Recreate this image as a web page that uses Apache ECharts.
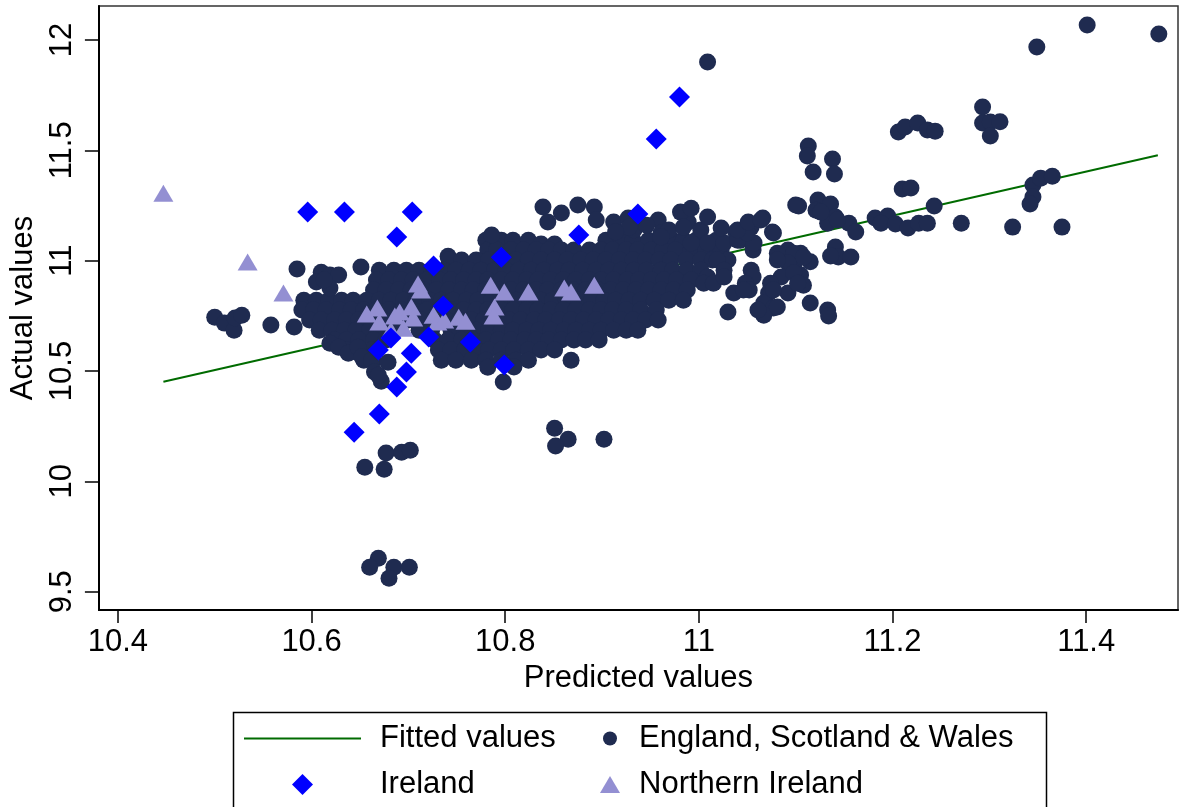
<!DOCTYPE html>
<html>
<head>
<meta charset="utf-8">
<title>Actual vs predicted values</title>
<script src="https://cdn.jsdelivr.net/npm/echarts@6/dist/echarts.min.js"></script>
<style>
  html, body { margin: 0; padding: 0; background: #fff; }
  #chart { width: 1180px; height: 807px; }
</style>
</head>
<body>
<div id="chart"></div>
<script>
// Axis ranges and tick labels
const xRange = [10.3804, 11.4948];
const yRange = [9.417, 12.154];
const xTicks = [10.4, 10.6, 10.8, 11, 11.2, 11.4];
const xTickLabels = ['10.4', '10.6', '10.8', '11', '11.2', '11.4'];
const yTicks = [9.5, 10, 10.5, 11, 11.5, 12];
const yTickLabels = ['9.5', '10', '10.5', '11', '11.5', '12'];

// Fitted regression line (end points)
const fittedX = [10.447, 11.474];
const fittedY = [10.451, 11.478];

// England, Scotland & Wales: sparse upper-right group
const eswTop = [
  [11.401, 12.068], [11.475, 12.027], [11.349, 11.968], [11.009, 11.900],
  [11.293, 11.696], [11.293, 11.624], [11.301, 11.628], [11.311, 11.630], [11.301, 11.565],
  [11.206, 11.583], [11.213, 11.606], [11.226, 11.624], [11.236, 11.592], [11.244, 11.587],
  [11.113, 11.520], [11.112, 11.474], [11.118, 11.402], [11.138, 11.461], [11.140, 11.393],
  [11.210, 11.325], [11.219, 11.329],
  [11.345, 11.343], [11.353, 11.374], [11.365, 11.383], [11.345, 11.288], [11.342, 11.257]
];

// England, Scotland & Wales: right side near the fitted line
const eswRight = [
  [11.103, 11.248], [11.123, 11.275], [11.136, 11.257], [11.121, 11.229], [11.141, 11.198],
  [11.133, 11.170], [11.155, 11.170], [11.162, 11.130], [11.126, 11.220], [11.143, 11.184],
  [11.182, 11.193], [11.195, 11.202], [11.188, 11.170], [11.203, 11.166], [11.216, 11.148],
  [11.227, 11.170], [11.236, 11.170], [11.243, 11.248],
  [11.271, 11.170], [11.324, 11.152], [11.375, 11.152],
  [11.141, 11.062], [11.144, 11.017], [11.157, 11.017], [11.136, 11.021],
  [11.092, 11.048], [11.105, 11.034], [11.115, 10.995], [11.098, 10.971], [11.105, 10.935],
  [11.108, 10.889], [11.092, 10.853], [11.115, 10.808], [11.133, 10.776], [11.134, 10.749]
];

// England, Scotland & Wales: between the main cloud and the right group
const eswMidRight = [
  [10.989, 11.175], [11.002, 11.139], [10.992, 11.080], [11.009, 11.080], [11.026, 11.080],
  [11.019, 11.003], [11.026, 10.957], [11.009, 10.926], [11.005, 10.898], [11.015, 10.898],
  [11.026, 10.926], [11.038, 11.130], [11.054, 11.152], [11.066, 11.193], [11.076, 11.130],
  [11.057, 11.080], [11.040, 11.093], [11.050, 11.125],
  [11.081, 11.034], [11.098, 11.034], [11.108, 11.016], [11.092, 10.989], [11.085, 10.926],
  [11.098, 10.944], [11.074, 10.898], [11.072, 10.853], [11.067, 10.808], [11.077, 10.785],
  [11.067, 10.753], [11.061, 10.776], [11.054, 10.957], [11.056, 10.926], [11.048, 10.898],
  [11.052, 10.867], [11.036, 10.853], [11.030, 10.767], [11.081, 11.003], [11.046, 10.867],
  [11.077, 10.867], [11.102, 10.898], [11.081, 10.790]
];

// England, Scotland & Wales: upper edge of the cloud
const eswUpper = [
  [10.839, 11.243], [10.844, 11.175], [10.858, 11.216], [10.875, 11.252], [10.892, 11.243],
  [10.894, 11.184], [10.912, 11.175], [10.927, 11.193], [10.933, 11.139], [10.958, 11.184],
  [10.961, 11.125], [10.981, 11.220], [10.992, 11.238], [11.009, 11.198], [11.023, 11.148],
  [11.040, 11.139], [11.051, 11.175], [11.064, 11.184], [11.077, 11.125], [11.100, 11.252],
  [10.786, 11.116], [10.928, 11.152], [10.969, 11.139], [10.984, 11.152], [10.946, 11.161],
  [10.914, 11.130], [10.961, 11.107]
];

// England, Scotland & Wales: left tail
const eswLeft = [
  [10.500, 10.744], [10.510, 10.717], [10.520, 10.685], [10.521, 10.740], [10.528, 10.753],
  [10.558, 10.708], [10.582, 10.699], [10.585, 10.962],
  [10.610, 10.948], [10.619, 10.935], [10.628, 10.935], [10.605, 10.903], [10.619, 10.876],
  [10.651, 10.971], [10.613, 10.912]
];

// England, Scotland & Wales: lower edge of the cloud
const eswLower = [
  [10.619, 10.626], [10.628, 10.608], [10.638, 10.581], [10.648, 10.608], [10.652, 10.563],
  [10.662, 10.549], [10.665, 10.495], [10.672, 10.454], [10.679, 10.540], [10.669, 10.481],
  [10.782, 10.517], [10.798, 10.450], [10.809, 10.518], [10.868, 10.549]
];

// England, Scotland & Wales: low outliers
const eswOutliers = [
  [10.677, 10.128], [10.693, 10.132], [10.702, 10.141], [10.655, 10.064], [10.675, 10.055],
  [10.851, 10.241], [10.865, 10.191], [10.852, 10.160], [10.902, 10.191],
  [10.669, 9.652], [10.660, 9.611], [10.685, 9.611], [10.701, 9.611], [10.680, 9.561]
];

// England, Scotland & Wales: dense core, one actual value per row with its predicted values
const eswCoreRows = [
  [11.093, [10.780, 10.796, 10.808, 10.824, 10.904, 10.920, 10.932, 10.948, 10.961, 10.973, 10.984, 10.997, 11.018, 11.043]],
  [11.075, [10.837, 10.851]],
  [11.048, [10.782, 10.791, 10.806, 10.819, 10.832, 10.845, 10.858, 10.871, 10.887, 10.899, 10.911, 10.925, 10.937, 10.951, 10.963, 10.976, 10.992, 11.007, 11.023, 11.056]],
  [11.020, [10.741]],
  [11.003, [10.742, 10.755, 10.770, 10.783, 10.798, 10.811, 10.824, 10.837, 10.851, 10.864, 10.878, 10.891, 10.904, 10.918, 10.932, 10.945, 10.959, 10.971, 10.987, 11.002, 11.014, 11.030]],
  [10.957, [10.670, 10.685, 10.698, 10.711, 10.724, 10.737, 10.749, 10.763, 10.775, 10.789, 10.801, 10.814, 10.827, 10.840, 10.854, 10.866, 10.880, 10.894, 10.907, 10.920, 10.933, 10.946, 10.961, 10.973, 10.988, 11.002]],
  [10.912, [10.667, 10.680, 10.693, 10.705, 10.719, 10.732, 10.744, 10.757, 10.770, 10.782, 10.796, 10.808, 10.822, 10.834, 10.847, 10.860, 10.873, 10.887, 10.899, 10.912, 10.926, 10.938, 10.951, 10.964, 10.977, 10.992, 11.007]],
  [10.867, [10.664, 10.677, 10.690, 10.703, 10.716, 10.729, 10.742, 10.755, 10.767, 10.780, 10.793, 10.806, 10.819, 10.832, 10.844, 10.858, 10.870, 10.883, 10.896, 10.909, 10.922, 10.935, 10.948, 10.961, 10.974, 10.988]],
  [10.821, [10.592, 10.605, 10.618, 10.631, 10.643, 10.657, 10.670, 10.682, 10.695, 10.708, 10.722, 10.734, 10.746, 10.760, 10.772, 10.786, 10.799, 10.811, 10.825, 10.837, 10.849, 10.863, 10.876, 10.889, 10.902, 10.914, 10.928, 10.940, 10.954, 10.969, 10.984]],
  [10.776, [10.590, 10.602, 10.615, 10.629, 10.641, 10.654, 10.667, 10.680, 10.693, 10.705, 10.719, 10.731, 10.744, 10.757, 10.770, 10.782, 10.796, 10.808, 10.822, 10.834, 10.847, 10.860, 10.873, 10.887, 10.899, 10.911, 10.925, 10.940, 10.956]],
  [10.731, [10.598, 10.610, 10.624, 10.636, 10.649, 10.662, 10.674, 10.688, 10.700, 10.713, 10.727, 10.739, 10.753, 10.765, 10.778, 10.791, 10.804, 10.816, 10.830, 10.842, 10.856, 10.868, 10.881, 10.894, 10.907, 10.920, 10.932, 10.945, 10.958]],
  [10.685, [10.608, 10.621, 10.634, 10.646, 10.660, 10.672, 10.686, 10.711, 10.724, 10.744, 10.758, 10.770, 10.783, 10.796, 10.808, 10.822, 10.835, 10.847, 10.861, 10.873, 10.887, 10.899, 10.912, 10.925, 10.937]],
  [10.640, [10.624, 10.636, 10.649, 10.664, 10.677, 10.727, 10.741, 10.755, 10.767, 10.780, 10.793, 10.806, 10.820, 10.832, 10.845, 10.858, 10.871, 10.883, 10.897]],
  [10.595, [10.636, 10.649, 10.662, 10.731, 10.744, 10.758, 10.770, 10.783, 10.796, 10.809, 10.824, 10.837, 10.851]],
  [10.549, [10.654, 10.664, 10.734, 10.749, 10.765, 10.780, 10.796, 10.811, 10.824]]
];

// Ireland
const irelandPoints = [
  [10.596, 11.220], [10.634, 11.220], [10.704, 11.220], [10.688, 11.107], [10.726, 10.976],
  [10.796, 11.016], [10.876, 11.116], [10.937, 11.211], [10.956, 11.551], [10.980, 11.742],
  [10.736, 10.794], [10.721, 10.654], [10.682, 10.649], [10.669, 10.595], [10.703, 10.581],
  [10.698, 10.495], [10.688, 10.427], [10.670, 10.305], [10.644, 10.223], [10.764, 10.631],
  [10.799, 10.527]
];

// Northern Ireland
const niPoints = [
  [10.447, 11.306], [10.534, 10.994], [10.571, 10.853], [10.657, 10.758], [10.668, 10.785],
  [10.670, 10.722], [10.682, 10.685], [10.686, 10.749], [10.691, 10.767], [10.695, 10.694],
  [10.703, 10.790], [10.705, 10.740], [10.710, 10.894], [10.713, 10.867], [10.726, 10.753],
  [10.730, 10.722], [10.737, 10.731], [10.752, 10.744], [10.759, 10.726], [10.785, 10.889],
  [10.799, 10.858], [10.789, 10.790], [10.788, 10.749], [10.824, 10.858], [10.861, 10.876],
  [10.868, 10.858], [10.892, 10.889]
];

const eswCore = [];
eswCoreRows.forEach(([actual, predictedList]) => {
  predictedList.forEach(p => eswCore.push([p, actual]));
});
const eswPoints = [].concat(eswCore, eswTop, eswRight, eswMidRight, eswUpper, eswLeft, eswLower, eswOutliers);

const FONT = '"Liberation Sans", Arial, Helvetica, sans-serif';
const FS = 31;
const labelFrom = (ticks, labels) => v => {
  const i = ticks.findIndex(t => Math.abs(t - v) < 1e-6);
  return i >= 0 ? labels[i] : '';
};

const chart = echarts.init(document.getElementById('chart'), null, { renderer: 'canvas' });

const legendText = { color: '#000', fontSize: FS, fontFamily: FONT };

chart.setOption({
  animation: false,
  backgroundColor: '#ffffff',
  grid: {
    left: 97, top: 6, right: 2, bottom: 197,
    show: true, borderColor: '#333', borderWidth: 1.5, backgroundColor: '#ffffff'
  },
  xAxis: {
    type: 'value', min: xRange[0], max: xRange[1],
    name: 'Predicted values', nameLocation: 'middle', nameGap: 45,
    nameTextStyle: { color: '#000', fontSize: FS, fontFamily: FONT },
    axisLine: { show: true, onZero: false, lineStyle: { color: '#000', width: 2 } },
    axisTick: { show: true, inside: false, length: 13, customValues: xTicks, lineStyle: { color: '#000', width: 1.5 } },
    axisLabel: { customValues: xTicks, formatter: labelFrom(xTicks, xTickLabels), color: '#000', fontSize: FS, fontFamily: FONT, margin: 17 },
    splitLine: { show: false }
  },
  yAxis: {
    type: 'value', min: yRange[0], max: yRange[1],
    name: 'Actual values', nameLocation: 'middle', nameGap: 58,
    nameTextStyle: { color: '#000', fontSize: FS, fontFamily: FONT },
    axisLine: { show: true, onZero: false, lineStyle: { color: '#000', width: 2 } },
    axisTick: { show: true, inside: false, length: 14, customValues: yTicks, lineStyle: { color: '#000', width: 1.5 } },
    axisLabel: { customValues: yTicks, formatter: labelFrom(yTicks, yTickLabels), rotate: 90, color: '#000', fontSize: FS, fontFamily: FONT, margin: 21 },
    splitLine: { show: false }
  },
  legend: [
    { data: [{ name: 'Fitted values', icon: 'rect' }], left: 244, top: 723, padding: 0, itemWidth: 117, itemHeight: 2,
      textStyle: Object.assign({ padding: [0, 0, 0, 14] }, legendText) },
    { data: ['England, Scotland & Wales'], left: 603, top: 723, padding: 0, itemWidth: 14, itemHeight: 14,
      textStyle: Object.assign({ padding: [0, 0, 0, 17] }, legendText) },
    { data: ['Ireland'], left: 292, top: 769, padding: 0, itemWidth: 21, itemHeight: 21,
      textStyle: Object.assign({ padding: [0, 0, 0, 62] }, legendText) },
    { data: ['Northern Ireland'], left: 600, top: 769, padding: 0, itemWidth: 20, itemHeight: 17,
      textStyle: Object.assign({ padding: [0, 0, 0, 14] }, legendText) }
  ],
  graphic: [{
    type: 'rect', left: 231, top: 710, silent: true,
    shape: { width: 813, height: 130 },
    style: { fill: 'none', stroke: '#000', lineWidth: 1.5 }
  }],
  series: [
    {
      name: 'Fitted values', type: 'line', z: 1,
      data: fittedX.map((x, i) => [x, fittedY[i]]),
      symbol: 'none', showSymbol: false,
      lineStyle: { color: '#006b00', width: 2 }, itemStyle: { color: '#006b00' }
    },
    {
      name: 'England, Scotland & Wales', type: 'scatter', z: 2,
      data: eswPoints, symbol: 'circle', symbolSize: 17,
      itemStyle: { color: '#1f2b50', opacity: 1 }
    },
    {
      name: 'Northern Ireland', type: 'scatter', z: 3,
      data: niPoints, symbol: 'triangle', symbolSize: [20, 17],
      itemStyle: { color: '#938fd2', opacity: 1 }
    },
    {
      name: 'Ireland', type: 'scatter', z: 4,
      data: irelandPoints, symbol: 'diamond', symbolSize: 21,
      itemStyle: { color: '#0000ff', opacity: 1 }
    }
  ]
});
</script>
</body>
</html>
